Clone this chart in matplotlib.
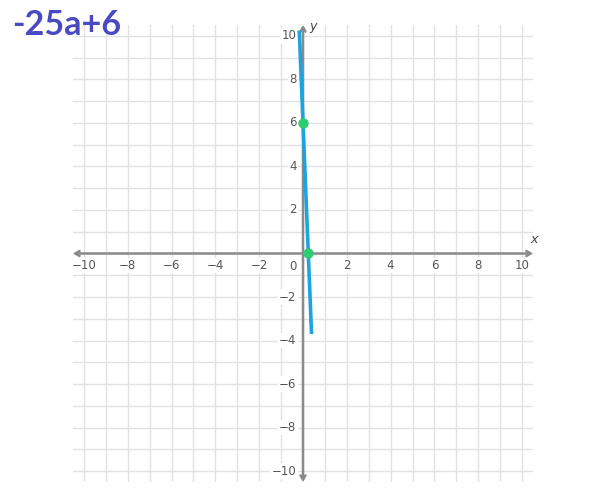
import numpy as np
import matplotlib.pyplot as plt

# graph content
title = "-25a+6"
line_x = [-0.17, 0.39]
line_y = [10.25, -3.7]
point_x = [0, 0.24]
point_y = [6, 0]
ticks = [-10, -8, -6, -4, -2, 2, 4, 6, 8, 10]
grid_vals = np.arange(-10, 11)
lim = 10.5

fig = plt.figure(figsize=(6, 4.99), dpi=100)
ax = fig.add_axes([73 / 600, 1 - 482 / 499, 460 / 600, 457 / 499])
ax.set_xlim(-lim, lim)
ax.set_ylim(-lim, lim)
for s in ax.spines.values():
    s.set_visible(False)
ax.set_xticks(grid_vals)
ax.set_yticks(grid_vals)
ax.tick_params(length=0, labelbottom=False, labelleft=False)
ax.grid(True, color="#e2e2e2", lw=1.0)
ax.set_axisbelow(True)

# axes with arrows
arrow = dict(arrowstyle="<->,head_length=0.3,head_width=0.18", color="#8a8a8a", lw=1.8,
             shrinkA=0, shrinkB=0)
ax.annotate("", xy=(lim, 0), xytext=(-lim, 0), arrowprops=arrow)
ax.annotate("", xy=(0, lim), xytext=(0, -lim), arrowprops=arrow)

lab = dict(fontsize=8.5, color="#555555", family="DejaVu Sans",
           bbox=dict(boxstyle="square,pad=0.1", fc="white", ec="none"))
for t in ticks:
    s = str(t).replace("-", "\u2212")
    ax.text(t, -0.55, s, ha="center", va="center", **lab)
    ax.text(-0.3, t, s, ha="right", va="center", **lab)
ax.text(-0.45, -0.6, "0", ha="center", va="center", **lab)
ax.text(lim + 0.05, 0.35, "x", fontsize=9, style="italic", color="#444444",
        ha="center", va="bottom")
ax.text(0.45, lim - 0.05, "y", fontsize=9, style="italic", color="#444444",
        ha="center", va="center")

ax.plot(line_x, line_y, color="#1ba4de", lw=2.6, solid_capstyle="butt", zorder=5)
ax.scatter(point_x, point_y, s=55, color="#2ecc71", zorder=6, linewidths=0)

fig.text(12 / 600, 1 - 9 / 499, title, fontsize=24.5, fontweight="bold",
         family="Lato", color="#4949c4", ha="left", va="top")

fig.savefig("out.png", dpi=100)
